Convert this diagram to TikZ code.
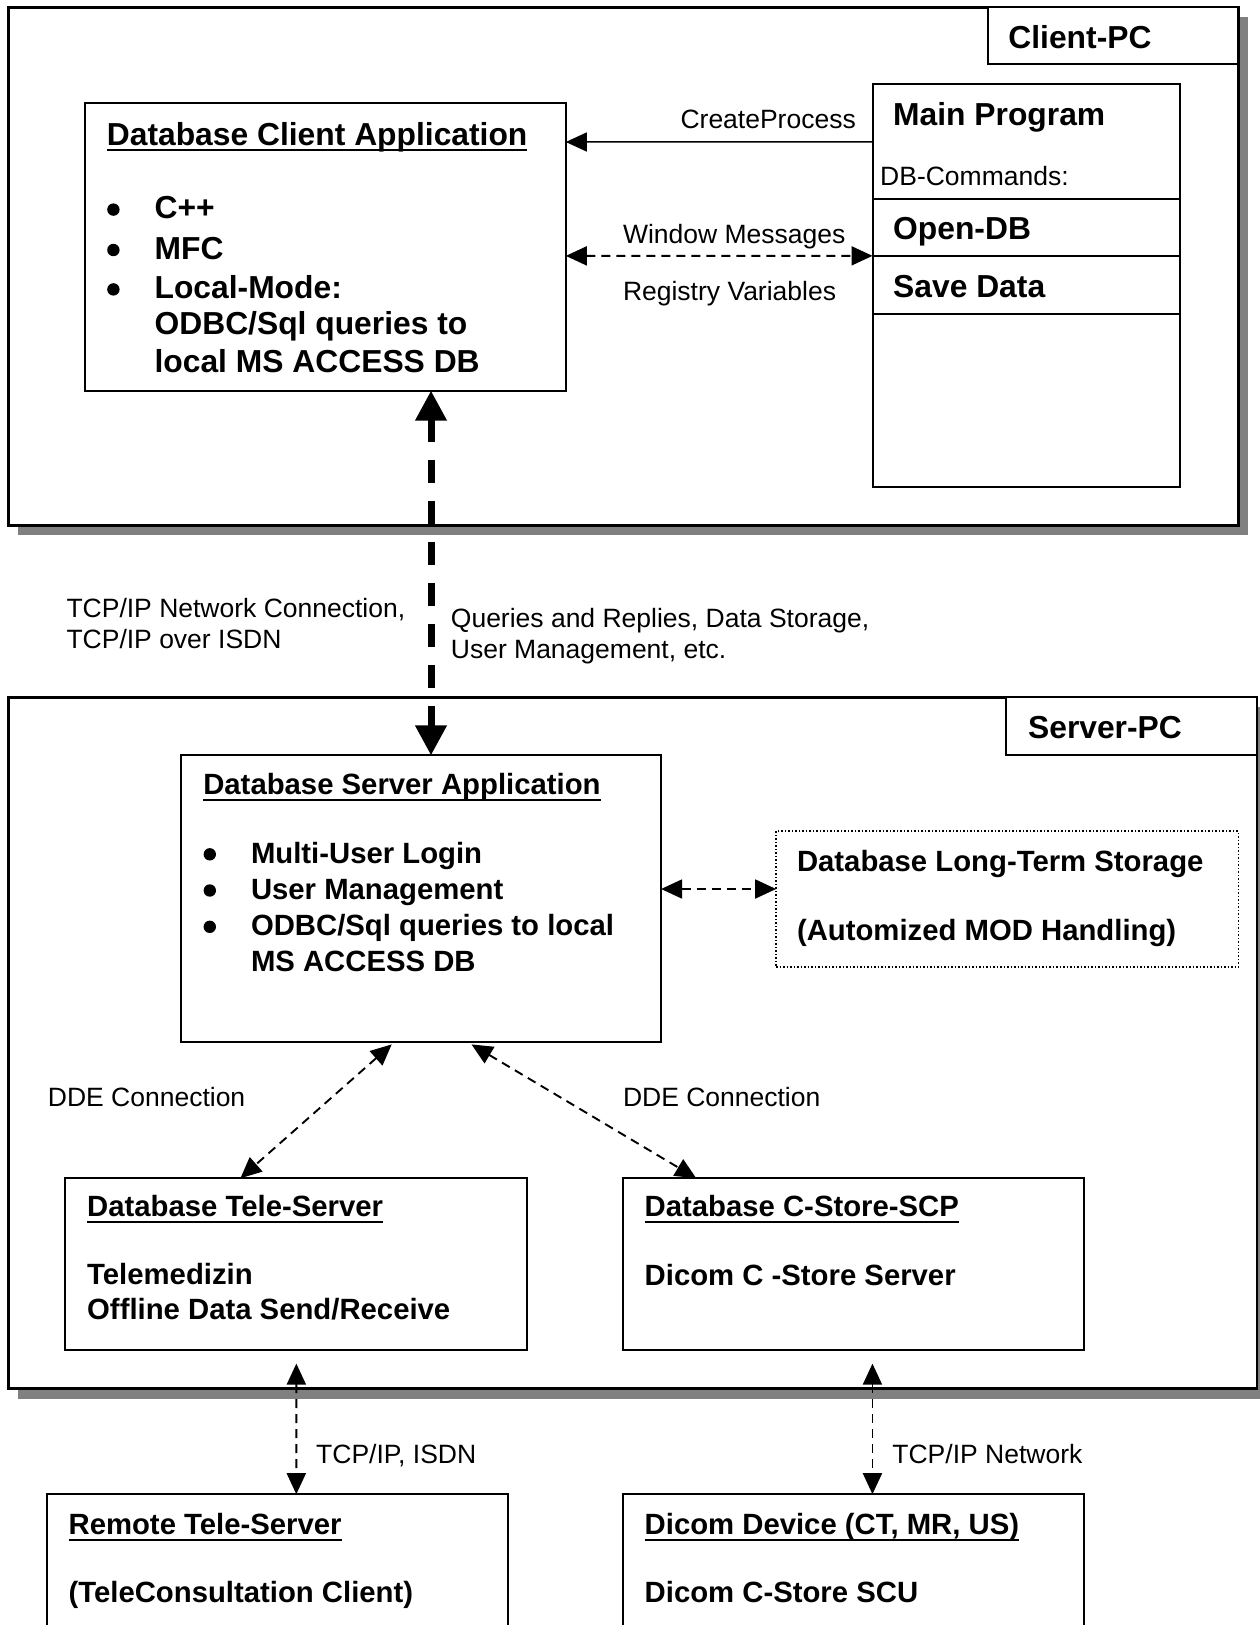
\documentclass[tikz,border=0pt]{standalone}
\usepackage{fontspec}
\setmainfont{Liberation Sans}
\usepackage{tikz}
\usetikzlibrary{arrows.meta,shapes,positioning,shadows}
\usepackage{xcolor}
\definecolor{shadowgray}{RGB}{128,128,128}
\newcommand{\thickul}[1]{\setbox0\hbox{#1}\rlap{\raisebox{-6.4pt}{\rule{\wd0}{2.4pt}}}\box0}
\tikzstyle{pcbox} = [rectangle, draw, line width=2.5pt, fill=white, inner sep=0pt, outer sep=0pt, anchor=north west, drop shadow={shadow xshift=10pt, shadow yshift=-10pt, fill=shadowgray, opacity=1}]
\tikzstyle{tabbox} = [rectangle, draw, line width=2pt, fill=white, inner sep=0pt, outer sep=0pt, anchor=north west]
\tikzstyle{appbox} = [rectangle, draw, line width=2pt, fill=white, inner sep=0pt, outer sep=0pt, anchor=north west]
\tikzstyle{storebox} = [rectangle, draw, line width=1.5pt, dotted, fill=white, inner sep=0pt, outer sep=0pt, anchor=north west]
\tikzstyle{bigtxt} = [anchor=base west, inner sep=0pt, font=\bfseries\fontsize{31.8}{36}\selectfont]
\tikzstyle{boldtxt} = [anchor=base west, inner sep=0pt, font=\bfseries\fontsize{29.3}{34}\selectfont]
\tikzstyle{lbl} = [anchor=base west, inner sep=0pt, font=\fontsize{26.5}{31}\selectfont]
\tikzstyle{arrow} = [line width=1.5pt, -{Triangle[length=21pt,width=19pt]}]
\tikzstyle{dasharrow} = [line width=1.9pt, dash pattern=on 9pt off 6pt, {Triangle[length=21pt,width=19pt]}-{Triangle[length=21pt,width=19pt]}]
\tikzstyle{netarrow} = [line width=7pt, dash pattern=on 23pt off 18pt, {Triangle[length=30pt,width=30pt]}-{Triangle[length=30pt,width=30pt]}]

\begin{document}
\begin{tikzpicture}[x=1pt, y=-1pt]
\useasboundingbox (0,0) rectangle (1260,1625);

% Client-PC
\node (client) [pcbox, minimum width=1230pt, minimum height=518pt] at (8.3,7.3) {};
\node (ctab) [tabbox, minimum width=250.8pt, minimum height=56.9pt] at (987.5,7.3) {};
\node (ctabtxt) [bigtxt] at (1008.2,48.7) {Client-PC};

\node (capp) [appbox, minimum width=480.8pt, minimum height=288pt] at (85,102.6) {};
\node (capp-t) [bigtxt] at (106.7,145) {\thickul{Database Client Application}};
\node (capp-1) [bigtxt] at (154.4,218.6) {C++};
\node (capp-2) [bigtxt] at (154.4,259) {MFC};
\node (capp-3) [bigtxt] at (154.4,298.4) {Local-Mode:};
\node (capp-4) [bigtxt] at (154.4,334.7) {ODBC/Sql queries to};
\node (capp-5) [bigtxt] at (154.4,372) {local MS ACCESS DB};

\node (main) [appbox, minimum width=307.7pt, minimum height=403.1pt] at (872.5,83.9) {};
\draw[line width=1.5pt] ([yshift=86.45pt]main.west) -- ([yshift=86.45pt]main.east);
\draw[line width=1.5pt] ([yshift=29.55pt]main.west) -- ([yshift=29.55pt]main.east);
\draw[line width=1.5pt] ([yshift=-28.55pt]main.west) -- ([yshift=-28.55pt]main.east);
\node (main-t) [bigtxt] at (893,125.4) {Main Program};
\node (main-c) [lbl] at (880,185.7) {DB-Commands:};
\node (main-1) [bigtxt] at (893,239.4) {Open-DB};
\node (main-2) [bigtxt] at (893,297.4) {Save Data};

% Server-PC
\node (server) [pcbox, minimum width=1248.6pt, minimum height=691.1pt] at (8.3,697.4) {};
\node (stab) [tabbox, minimum width=250.7pt, minimum height=58pt] at (1006.2,697.4) {};
\node (stabtxt) [bigtxt] at (1027.9,738.7) {Server-PC};

\node (sapp) [appbox, minimum width=479.8pt, minimum height=287pt] at (181.3,755.4) {};
\node (sapp-t) [boldtxt] at (203.1,794.9) {\thickul{Database Server Application}};
\node (sapp-1) [boldtxt] at (250.8,863.3) {Multi-User Login};
\node (sapp-2) [boldtxt] at (250.8,899.5) {User Management};
\node (sapp-3) [boldtxt] at (250.8,935.8) {ODBC/Sql queries to local};
\node (sapp-4) [boldtxt] at (250.8,971.1) {MS ACCESS DB};

% bullets
\foreach \n in {capp-1,capp-2,capp-3,sapp-1,sapp-2,sapp-3}
  \fill ([xshift=-41pt,yshift=9pt]\n.base west) circle (6.2pt);

\node (stor) [storebox, minimum width=462.2pt, minimum height=135.8pt] at (776.1,831) {};
\node (stor-1) [boldtxt] at (796.8,871.5) {Database Long-Term Storage};
\node (stor-2) [boldtxt] at (796.8,940) {(Automized MOD Handling)};

\node (tele) [appbox, minimum width=462.1pt, minimum height=172pt] at (65.3,1178.2) {};
\node (tele-t) [boldtxt] at (87,1216.6) {\thickul{Database Tele-Server}};
\node (tele-1) [boldtxt] at (87,1284) {Telemedizin};
\node (tele-2) [boldtxt] at (87,1319.2) {Offline Data Send/Receive};

\node (cstore) [appbox, minimum width=461.1pt, minimum height=172pt] at (622.8,1178.2) {};
\node (cstore-t) [boldtxt] at (644.5,1216.6) {\thickul{Database C-Store-SCP}};
\node (cstore-1) [boldtxt] at (644.5,1285) {Dicom C -Store Server};

% outside devices
\node (remote) [appbox, minimum width=461.1pt, minimum height=150pt] at (46.6,1494.2) {};
\node (remote-t) [boldtxt] at (68.4,1534.7) {\thickul{Remote Tele-Server}};
\node (remote-1) [boldtxt] at (68.4,1602.1) {(TeleConsultation Client)};

\node (dicom) [appbox, minimum width=461.1pt, minimum height=150pt] at (622.8,1494.2) {};
\node (dicom-t) [boldtxt] at (644.5,1534.7) {\thickul{Dicom Device (CT, MR, US)}};
\node (dicom-1) [boldtxt] at (644.5,1602.1) {Dicom C-Store SCU};

% connections
\draw[arrow] ([yshift=143.5pt]main.west) -- ([yshift=104.6pt]capp.east);
\node (cplbl) [lbl, anchor=base east] at (856,128.7) {CreateProcess};
\draw[dasharrow] ([yshift=-9.3pt]capp.east) -- ([yshift=29.6pt]main.west);
\node (wmlbl) [lbl] at (622.8,243.7) {Window Messages};
\node (rvlbl) [lbl] at (622.8,300.7) {Registry Variables};

\draw[netarrow] ([xshift=105.6pt]capp.south) -- ([xshift=9.8pt]sapp.north);
\node (netlbl-1) [lbl] at (66.3,617.7) {TCP/IP Network Connection,};
\node (netlbl-2) [lbl] at (66.3,648.8) {TCP/IP over ISDN};
\node (qlbl-1) [lbl] at (450.7,627.1) {Queries and Replies, Data Storage,};
\node (qlbl-2) [lbl] at (450.7,658.2) {User Management, etc.};

\draw[dasharrow] ([yshift=9.9pt]sapp.east) -- ([yshift=9.9pt]stor.west);

\draw[dasharrow] ([xshift=-29.5pt,yshift=-2pt]sapp.south) -- ([xshift=-55.9pt]tele.north);
\draw[dasharrow] ([xshift=50.3pt,yshift=-2pt]sapp.south) -- ([xshift=-157.1pt]cstore.north);
\node (ddelbl-1) [lbl] at (47.7,1106.8) {DDE Connection};
\node (ddelbl-2) [lbl] at (622.8,1106.8) {DDE Connection};

\draw[dasharrow] ([yshift=-13.4pt]tele.south) -- ([xshift=19.15pt]remote.north);
\draw[dasharrow] ([xshift=19.1pt,yshift=-13.4pt]cstore.south) -- ([xshift=19.1pt]dicom.north);
\node (isdnlbl) [lbl] at (316,1463.3) {TCP/IP, ISDN};
\node (tcplbl) [lbl] at (892.2,1463.3) {TCP/IP Network};
\end{tikzpicture}
\end{document}
